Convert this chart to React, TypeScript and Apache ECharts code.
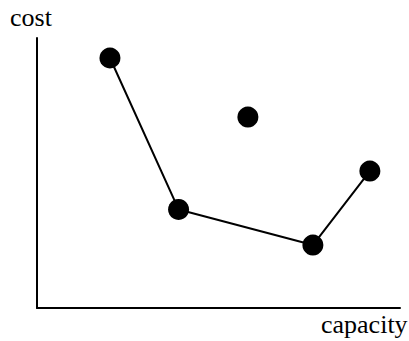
import React, { useEffect, useRef } from "react";
import * as echarts from "echarts";

const capacity = [20.1, 39.0, 58.1, 76.0, 91.7];
const cost = [92.6, 36.5, 70.7, 23.3, 50.7];
// indices of points joined by the line (the third point stands alone)
const linked = [0, 1, 3, 4];
const xTitle = "capacity";
const yTitle = "cost";

export default function App() {
  const ref = useRef<HTMLDivElement>(null);
  useEffect(() => {
    const chart = echarts.init(ref.current!, undefined, { renderer: "svg" });
    const font = "'Liberation Serif', 'Times New Roman', serif";
    chart.setOption({
      animation: false,
      backgroundColor: "#ffffff",
      grid: { left: 37, top: 38, width: 363, height: 270 },
      xAxis: {
        type: "value",
        min: 0,
        max: 100,
        axisLine: { show: true, onZero: false, lineStyle: { color: "#000", width: 2 } },
        axisTick: { show: false },
        axisLabel: { show: false },
        splitLine: { show: false },
      },
      yAxis: {
        type: "value",
        min: 0,
        max: 100,
        axisLine: { show: true, onZero: false, lineStyle: { color: "#000", width: 2 } },
        axisTick: { show: false },
        axisLabel: { show: false },
        splitLine: { show: false },
      },
      graphic: [
        {
          type: "text",
          left: 10,
          top: 4,
          style: { text: yTitle, font: `26px ${font}`, fill: "#000" },
        },
        {
          type: "text",
          left: 321,
          top: 311,
          style: { text: xTitle, font: `26px ${font}`, fill: "#000" },
        },
      ],
      series: [
        {
          type: "line",
          data: linked.map((i) => [capacity[i], cost[i]]),
          symbol: "none",
          lineStyle: { color: "#000", width: 2 },
          z: 2,
        },
        {
          type: "scatter",
          data: capacity.map((c, i) => [c, cost[i]]),
          symbol: "circle",
          symbolSize: 21,
          itemStyle: { color: "#000", opacity: 1 },
          z: 3,
        },
      ],
    });
    return () => chart.dispose();
  }, []);
  return <div ref={ref} style={{ width: 409, height: 341, position: "absolute", left: 0, top: 0 }} />;
}
